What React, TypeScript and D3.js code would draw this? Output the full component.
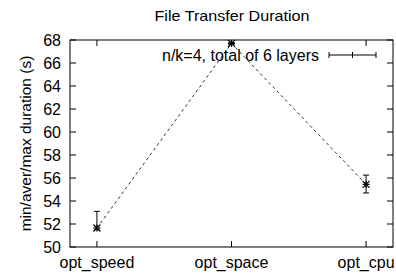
import React, { useEffect, useRef } from 'react';
import * as d3 from 'd3';

const categories = ['opt_speed', 'opt_space', 'opt_cpu'];
const avgValues = [51.65, 67.7, 55.45];
const minValues = [51.5, 67.6, 54.7];
const maxValues = [53.1, 67.8, 56.25];
const yTicks = [50, 52, 54, 56, 58, 60, 62, 64, 66, 68];
const legendLabel = 'n/k=4, total of 6 layers';

const App = () => {
  const ref = useRef<SVGSVGElement | null>(null);

  useEffect(() => {
    if (!ref.current) return;
    const svg = d3.select(ref.current);
    svg.selectAll('*').remove();

    const W = 396, H = 276;
    const left = 70, right = 393, top = 40, bottom = 247;
    const font = '"Liberation Sans", Arial, sans-serif';
    const fs = 16;

    const x = d3.scaleLinear().domain([-0.2, 2.2]).range([left, right]);
    const y = d3.scaleLinear().domain([50, 68]).range([bottom, top]);

    svg.attr('width', W).attr('height', H);
    svg.append('rect').attr('width', W).attr('height', H).attr('fill', '#fff');

    // title
    svg.append('text')
      .attr('x', 232).attr('y', 21)
      .attr('text-anchor', 'middle')
      .attr('font-family', font).attr('font-size', 15)
      .attr('textLength', 155).attr('lengthAdjust', 'spacingAndGlyphs')
      .text('File Transfer Duration');

    // frame
    svg.append('rect')
      .attr('x', left).attr('y', top)
      .attr('width', right - left).attr('height', bottom - top)
      .attr('fill', 'none').attr('stroke', '#000').attr('stroke-width', 1);

    const tickLen = 6;
    const g = svg.append('g').attr('stroke', '#000').attr('stroke-width', 1);

    // y ticks (left + mirrored right)
    yTicks.forEach(t => {
      g.append('line').attr('x1', left).attr('x2', left + tickLen).attr('y1', y(t)).attr('y2', y(t));
      g.append('line').attr('x1', right).attr('x2', right - tickLen).attr('y1', y(t)).attr('y2', y(t));
      svg.append('text')
        .attr('x', left - 9).attr('y', y(t))
        .attr('dy', '0.36em')
        .attr('text-anchor', 'end')
        .attr('font-family', font).attr('font-size', fs)
        .text(t);
    });

    // x ticks (bottom + mirrored top)
    categories.forEach((c, i) => {
      g.append('line').attr('x1', x(i)).attr('x2', x(i)).attr('y1', bottom).attr('y2', bottom - tickLen);
      g.append('line').attr('x1', x(i)).attr('x2', x(i)).attr('y1', top).attr('y2', top + tickLen);
      svg.append('text')
        .attr('x', x(i)).attr('y', 268)
        .attr('text-anchor', 'middle')
        .attr('font-family', font).attr('font-size', fs)
        .text(c);
    });

    // y axis label
    svg.append('text')
      .attr('transform', `translate(25,${(top + bottom) / 2}) rotate(-90)`)
      .attr('dy', '0.36em')
      .attr('text-anchor', 'middle')
      .attr('font-family', font).attr('font-size', 15.5)
      .text('min/aver/max duration (s)');

    // dashed connecting line
    const line = d3.line<number>().x((_, i) => x(i)).y(d => y(d));
    svg.append('path')
      .attr('d', line(avgValues))
      .attr('fill', 'none').attr('stroke', '#000').attr('stroke-width', 0.8)
      .attr('stroke-dasharray', '3,3');

    // error bars
    const cap = 3;
    const eb = svg.append('g').attr('stroke', '#000').attr('stroke-width', 1);
    categories.forEach((_, i) => {
      const cx = x(i);
      eb.append('line').attr('x1', cx).attr('x2', cx).attr('y1', y(minValues[i])).attr('y2', y(maxValues[i]));
      eb.append('line').attr('x1', cx - cap).attr('x2', cx + cap).attr('y1', y(minValues[i])).attr('y2', y(minValues[i]));
      eb.append('line').attr('x1', cx - cap).attr('x2', cx + cap).attr('y1', y(maxValues[i])).attr('y2', y(maxValues[i]));
    });

    // star markers
    const s = 3.5;
    avgValues.forEach((v, i) => {
      const cx = x(i), cy = y(v);
      const m = svg.append('g').attr('stroke', '#000').attr('stroke-width', 1.2);
      m.append('line').attr('x1', cx - s).attr('x2', cx + s).attr('y1', cy).attr('y2', cy);
      m.append('line').attr('x1', cx).attr('x2', cx).attr('y1', cy - s).attr('y2', cy + s);
      m.append('line').attr('x1', cx - s).attr('x2', cx + s).attr('y1', cy - s).attr('y2', cy + s);
      m.append('line').attr('x1', cx - s).attr('x2', cx + s).attr('y1', cy + s).attr('y2', cy - s);
    });

    // legend
    const ly = 55;
    svg.append('text')
      .attr('x', 319).attr('y', ly)
      .attr('dy', '0.36em')
      .attr('text-anchor', 'end')
      .attr('font-family', font).attr('font-size', fs)
      .text(legendLabel);
    const lg = svg.append('g').attr('stroke', '#000').attr('stroke-width', 1);
    lg.append('line').attr('x1', 329).attr('x2', 376).attr('y1', ly).attr('y2', ly);
    lg.append('line').attr('x1', 329).attr('x2', 329).attr('y1', ly - 3).attr('y2', ly + 3);
    lg.append('line').attr('x1', 376).attr('x2', 376).attr('y1', ly - 3).attr('y2', ly + 3);
    lg.append('line').attr('x1', 352.5).attr('x2', 352.5).attr('y1', ly - 3).attr('y2', ly + 3);
  }, []);

  return (
    <svg ref={ref} style={{ position: 'fixed', left: 0, top: 0, display: 'block' }} />
  );
};

export default App;
